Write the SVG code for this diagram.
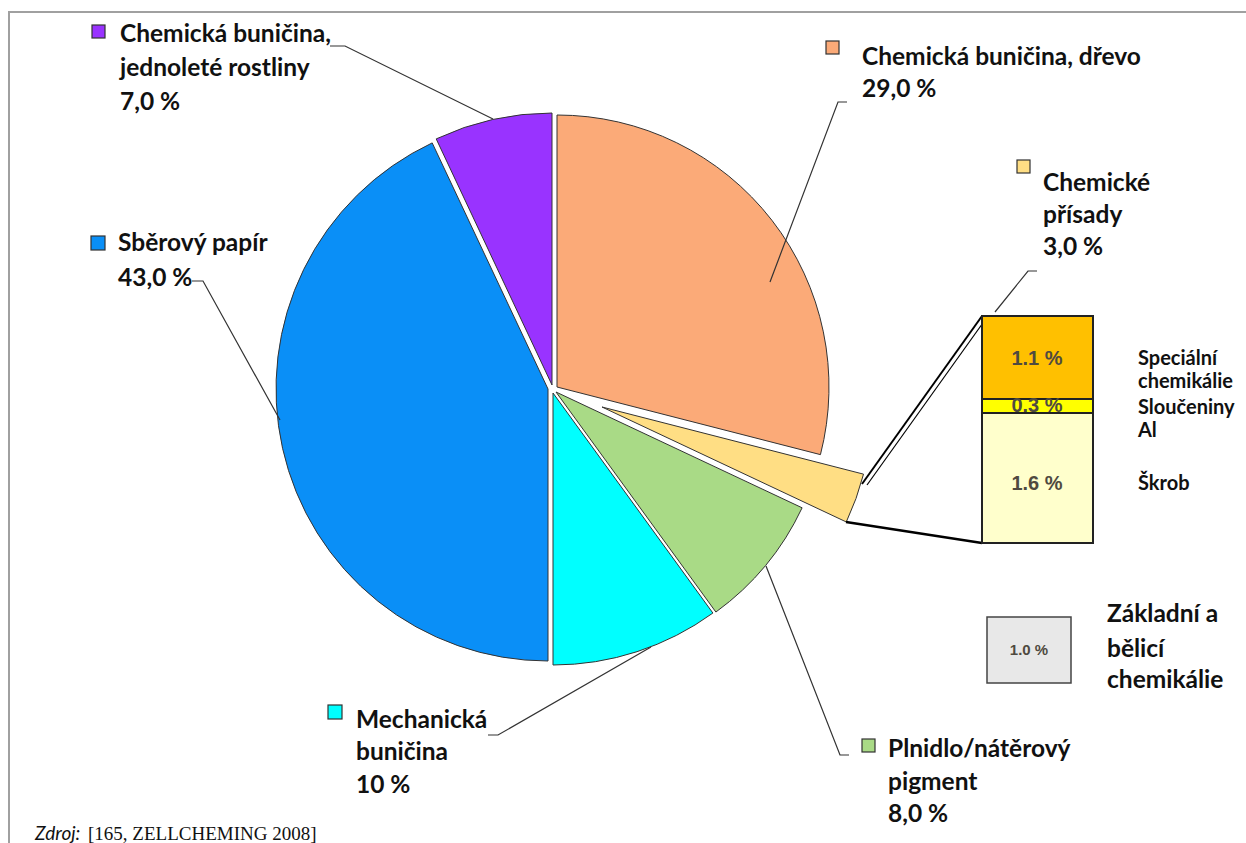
<svg xmlns="http://www.w3.org/2000/svg" width="1246" height="843" viewBox="0 0 1246 843">
  <style>
    .lbl { font-family: Lato, "Liberation Sans", sans-serif; font-weight: bold; font-size: 24.5px; fill: #111; }
    .sub { font-family: Lato, "Liberation Sans", sans-serif; font-weight: bold; font-size: 20px; fill: #111; }
    .val { font-family: "Liberation Sans", Arial, sans-serif; font-weight: bold; font-size: 20px; fill: #4f4a40; text-anchor: middle; }
    .slice { stroke: #333; stroke-width: 1; stroke-linejoin: round; }
    .key { stroke: #333; stroke-width: 1.2; }
    .lead { fill: none; stroke: #333; stroke-width: 1.2; }
    .zoomline { fill: none; stroke: #000; }
    .frame { fill: none; stroke: #a0a0a0; stroke-width: 2; }
  </style>

  <rect width="1246" height="843" fill="#fff"/>
  <path class="frame" d="M9,843 V12 H1246"/>

  <g id="pie">
    <path id="slice-drevo" class="slice" fill="#FBAA78" d="M557,387 L557,115 A272,272 0 0 1 820.45,454.64 Z"/>
    <path id="slice-prisady" class="slice" fill="#FFDE84" d="M602,407 L863.52,474.15 A270,270 0 0 1 846.30,521.96 Z"/>
    <path id="slice-plnidlo" class="slice" fill="#A9DA86" d="M556,392 L802.11,507.81 A272,272 0 0 1 715.88,612.05 Z"/>
    <path id="slice-mechanicka" class="slice" fill="#00FFFF" d="M553,393 L712.88,613.05 A272,272 0 0 1 553,665 Z"/>
    <path id="slice-sberovy" class="slice" fill="#0A8FF7" d="M548,389 L548,661 A272,272 0 0 1 432.19,142.89 Z"/>
    <path id="slice-jednolete" class="slice" fill="#9933FF" d="M552,385 L436.19,138.89 A272,272 0 0 1 552,113 Z"/>
  </g>

  <g id="connectors">
    <path class="lead" d="M330,46 H345 L493,119"/>
    <path class="lead" d="M847,102 H838 L770,282"/>
    <path class="lead" d="M1037,271 H1028 L995,312"/>
    <path class="lead" d="M192,281 H203 L280,420"/>
    <path class="lead" d="M488,735 H498 L651,647"/>
    <path class="lead" d="M766,566 L840,755 H849"/>
    <path class="zoomline" stroke-width="2" d="M982,316 L862,484"/>
    <path class="zoomline" stroke-width="1.2" d="M985,320 L867,485"/>
    <path class="zoomline" stroke-width="2.5" d="M846,522 L982,543"/>
  </g>

  <g id="label-jednolete">
    <rect class="key" x="92" y="25" width="13" height="13" fill="#9933FF"/>
    <text class="lbl" x="120" y="42">Chemická buničina,</text>
    <text class="lbl" x="120" y="76">jednoleté rostliny</text>
    <text class="lbl" x="120" y="110">7,0 %</text>
  </g>

  <g id="label-drevo">
    <rect class="key" x="826" y="41" width="13" height="13" fill="#FBAA78"/>
    <text class="lbl" x="862" y="65">Chemická buničina, dřevo</text>
    <text class="lbl" x="862" y="97">29,0 %</text>
  </g>

  <g id="label-prisady">
    <rect class="key" x="1017" y="160" width="13" height="13" fill="#FFDE84"/>
    <text class="lbl" x="1043" y="191">Chemické</text>
    <text class="lbl" x="1043" y="223">přísady</text>
    <text class="lbl" x="1043" y="255">3,0 %</text>
  </g>

  <g id="label-sberovy">
    <rect class="key" x="91" y="236" width="14" height="14" fill="#0A8FF7"/>
    <text class="lbl" x="118" y="251">Sběrový papír</text>
    <text class="lbl" x="118" y="286">43,0 %</text>
  </g>

  <g id="label-mechanicka">
    <rect class="key" x="328" y="705" width="14" height="14" fill="#00FFFF"/>
    <text class="lbl" x="356" y="728">Mechanická</text>
    <text class="lbl" x="356" y="760">buničina</text>
    <text class="lbl" x="356" y="793">10 %</text>
  </g>

  <g id="label-plnidlo">
    <rect class="key" x="862" y="739" width="13" height="13" fill="#A9DA86"/>
    <text class="lbl" x="888" y="757">Plnidlo/nátěrový</text>
    <text class="lbl" x="888" y="790">pigment</text>
    <text class="lbl" x="888" y="822">8,0 %</text>
  </g>

  <!-- breakdown of the chemical additives -->
  <g id="stack-prisady">
    <rect x="982" y="316" width="111" height="83" fill="#FFC000" stroke="#222" stroke-width="2"/>
    <rect x="982" y="399" width="111" height="14" fill="#FFFF00" stroke="#222" stroke-width="2"/>
    <rect x="982" y="413" width="111" height="130" fill="#FFFFCC" stroke="#222" stroke-width="2"/>
    <text class="val" x="1037" y="365">1.1 %</text>
    <text class="val" x="1037" y="412">0.3 %</text>
    <text class="val" x="1037" y="490">1.6 %</text>
  </g>

  <g id="label-specialni">
    <text class="sub" x="1138" y="365">Speciální</text>
    <text class="sub" x="1138" y="388">chemikálie</text>
  </g>
  <g id="label-al">
    <text class="sub" x="1138" y="414">Sloučeniny</text>
    <text class="sub" x="1138" y="437">Al</text>
  </g>
  <g id="label-skrob">
    <text class="sub" x="1138" y="490">Škrob</text>
  </g>

  <g id="zakladni">
    <rect x="987" y="617" width="84" height="66" fill="#E8E8E8" stroke="#444" stroke-width="1.5"/>
    <text class="val" x="1029" y="655" style="font-size:15px">1.0 %</text>
    <text class="lbl" x="1107" y="622">Základní a</text>
    <text class="lbl" x="1107" y="657">bělicí</text>
    <text class="lbl" x="1107" y="688">chemikálie</text>
  </g>

  <g id="source">
    <text x="35" y="840" font-family="Lato, 'Liberation Sans', sans-serif" font-style="italic" font-size="19" fill="#111">Zdroj:</text>
    <text x="88" y="840" font-family="'Liberation Serif', 'Times New Roman', serif" font-size="19" fill="#111">[165, ZELLCHEMING 2008]</text>
  </g>
</svg>
